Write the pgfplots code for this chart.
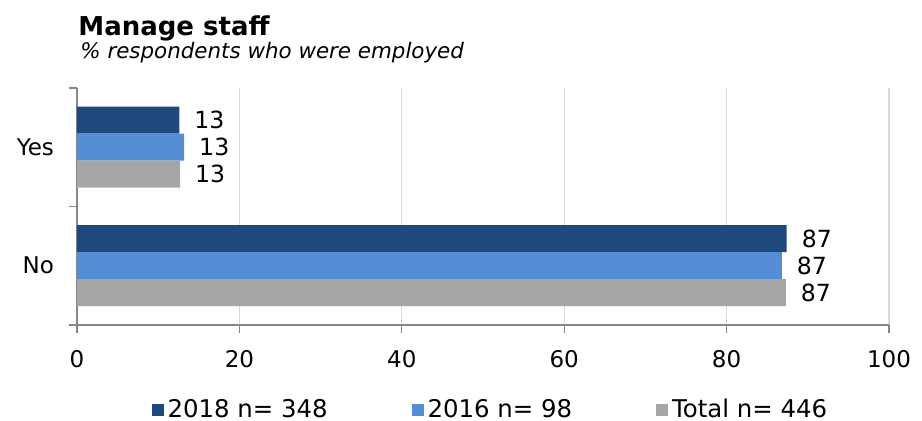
\documentclass[border=0pt]{standalone}
\usepackage{fontspec}
\setmainfont{DejaVu Sans}
\usepackage{pgfplots}
\pgfplotsset{compat=1.18}
\definecolor{cA}{HTML}{1F497D}
\definecolor{cB}{HTML}{558ED5}
\definecolor{cC}{HTML}{A6A6A6}
\definecolor{axisgray}{HTML}{868686}
\definecolor{gridgray}{HTML}{D9D9D9}
\pgfplotsset{/pgf/number format/assume math mode=true}
\begin{document}
\begin{tikzpicture}
\useasboundingbox (0,0) rectangle (461pt,210.5pt);
\node[anchor=base west, inner sep=0, font=\bfseries\fontsize{13}{15}\selectfont] at (39pt,192.5pt) {Manage staff};
\node[anchor=base west, inner sep=0, font=\itshape\fontsize{10.7}{12}\selectfont] at (40pt,181pt) {\% respondents who were employed};
\begin{axis}[
  at={(38.5pt,48pt)}, anchor=south west,
  scale only axis, width=406pt, height=118.5pt,
  xmin=0, xmax=100, ymin=-0.5, ymax=1.5,
  axis x line*=bottom, axis y line*=left,
  axis line style={axisgray, line width=0.6pt},
  xtick={0,20,40,60,80,100},
  xtick style={axisgray, line width=0.6pt},
  tick align=outside, major tick length=4pt,
  xmajorgrids, grid style={gridgray, line width=0.6pt},
  ytick={0,1}, yticklabels={No,Yes},
  ytick style={draw=none},
  extra y ticks={-0.5,0.5,1.5}, extra y tick labels={},
  extra y tick style={grid=none, ytick style={draw=axisgray, line width=0.6pt}, major tick length=4pt},
  tick label style={font=\fontsize{11.5}{13}\selectfont},
  xticklabel style={yshift=-5pt},
  yticklabel style={xshift=-4pt},
  xbar, bar width=13.5pt,
  point meta=x,
  nodes near coords={\pgfmathprintnumber[fixed,precision=0]{\pgfplotspointmeta}},
  every node near coord/.append style={font=\fontsize{11.8}{13}\selectfont, anchor=west, xshift=4pt, text=black},
  legend columns=3,
  legend image code/.code={\fill[#1,draw=none] (0pt,-3pt) rectangle (6pt,3pt);},
  legend style={at={(axis description cs:0.5103,-0.3586)}, anchor=center, draw=none, fill=none,
    font=\fontsize{12.2}{14}\selectfont, inner sep=0pt,
    /tikz/every even column/.append style={column sep=40pt},
    nodes={inner sep=2pt}},
]
\addplot[xbar, bar shift=13.5pt, fill=cA, draw=none] coordinates {(87.4,0) (12.6,1)};
\addplot[xbar, bar shift=0pt, fill=cB, draw=none] coordinates {(86.8,0) (13.2,1)};
\addplot[xbar, bar shift=-13.5pt, fill=cC, draw=none] coordinates {(87.3,0) (12.7,1)};
\legend{2018 n= 348, 2016 n= 98, Total n= 446}
\end{axis}
\end{tikzpicture}
\end{document}
